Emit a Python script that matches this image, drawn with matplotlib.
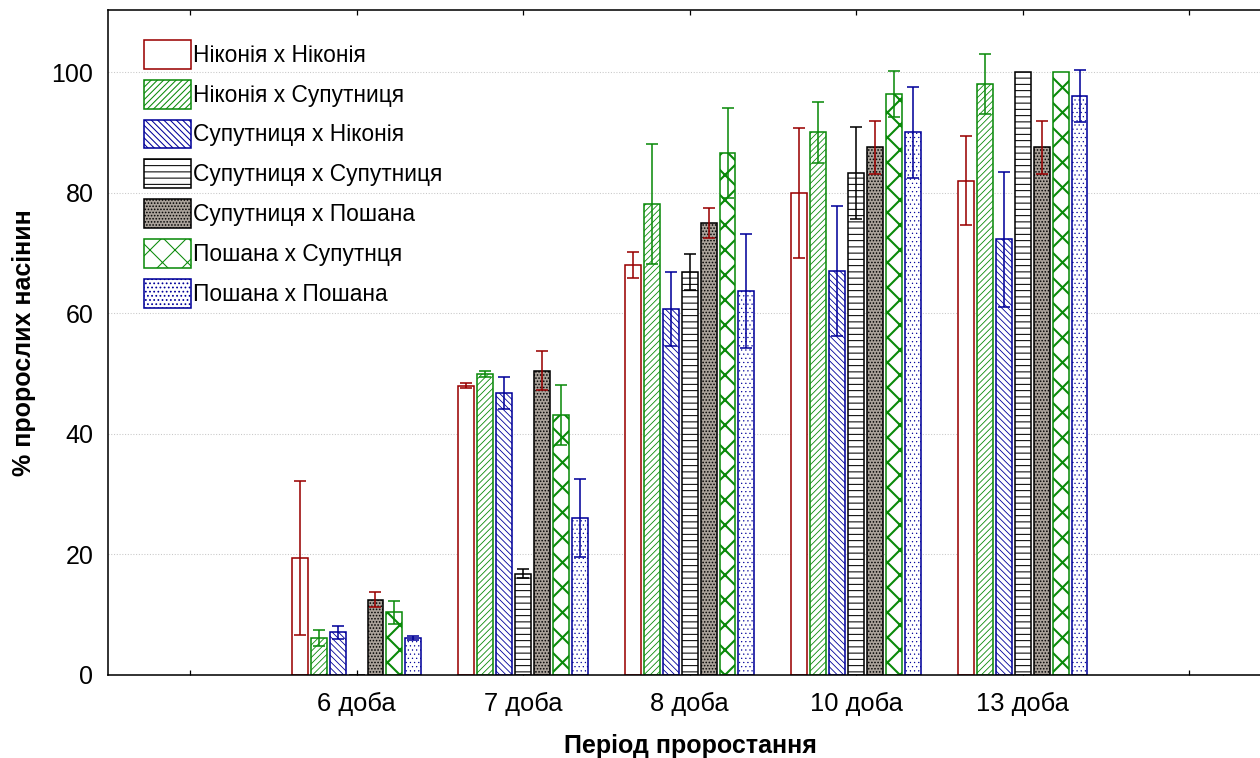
import numpy as np
import matplotlib
matplotlib.use("Agg")
import matplotlib.pyplot as plt

plt.rcParams['font.family'] = ['Liberation Sans', 'DejaVu Sans']
plt.rcParams['hatch.linewidth'] = 1.0

# періоди проростання
groups = ['6 доба', '7 доба', '8 доба', '10 доба', '13 доба']

names = ['Ніконія х Ніконія', 'Ніконія х Супутниця', 'Супутниця х Ніконія',
         'Супутниця х Супутниця', 'Супутниця х Пошана', 'Пошана х Супутнця',
         'Пошана х Пошана']

nik_nik = [19.4, 48.0, 68.0, 80.0, 82.0]
nik_sup = [6.1, 50.0, 78.1, 90.0, 98.0]
sup_nik = [7.1, 46.8, 60.7, 67.0, 72.3]
sup_sup = [0.0, 16.8, 66.8, 83.3, 100.0]
sup_posh = [12.5, 50.5, 75.0, 87.5, 87.5]
posh_sup = [10.4, 43.1, 86.6, 96.3, 100.0]
posh_posh = [6.1, 26.0, 63.7, 90.0, 96.0]

nik_nik_err = [12.8, 0.4, 2.1, 10.8, 7.4]
nik_sup_err = [1.3, 0.5, 10.0, 5.0, 5.0]
sup_nik_err = [1.1, 2.7, 6.2, 10.8, 11.2]
sup_sup_err = [np.nan, 0.7, 3.0, 7.6, np.nan]
sup_posh_err = [1.25, 3.3, 2.5, 4.4, 4.4]
posh_sup_err = [1.9, 5.0, 7.4, 3.8, np.nan]
posh_posh_err = [0.3, 6.5, 9.4, 7.5, 4.3]

values = [nik_nik, nik_sup, sup_nik, sup_sup, sup_posh, posh_sup, posh_posh]
errors = [nik_nik_err, nik_sup_err, sup_nik_err, sup_sup_err, sup_posh_err,
          posh_sup_err, posh_posh_err]

red = '#990000'
green = '#0a8a0a'
blue = '#000099'
styles = [
    dict(fc='white', ec=red, hatch=None, err=red, hlw=1.0),
    dict(fc='white', ec=green, hatch='////', err=green, hlw=0.8),
    dict(fc='white', ec=blue, hatch='\\\\\\\\', err=blue, hlw=0.8),
    dict(fc='white', ec='black', hatch='--', err='black', hlw=1.0),
    dict(fc='#aaa29a', ec='black', hatch='....', err=red, hlw=1.0),
    dict(fc='white', ec=green, hatch='x', err=green, hlw=2.0),
    dict(fc='white', ec=blue, hatch='...', err=blue, hlw=0.5),
]

dpi = 75
fig = plt.figure(figsize=(1260 / dpi, 758 / dpi), dpi=dpi)
ax = fig.add_axes([108 / 1260, 1 - 675 / 758, 1 - 108 / 1260, 665 / 758])

x = np.arange(1, len(groups) + 1)
step = 0.114
width = 0.096
for i in range(len(values)):
    st = styles[i]
    pos = x + (i - 3) * step
    bars = ax.bar(pos, values[i], width, facecolor=st['fc'], edgecolor=st['ec'],
                  hatch=st['hatch'], linewidth=1.5, label=names[i], zorder=2)
    for p in bars:
        if hasattr(p, 'set_hatch_linewidth'):
            p.set_hatch_linewidth(st['hlw'])
    err = np.array(errors[i])
    ok = np.isfinite(err)
    ax.errorbar(pos[ok], np.array(values[i])[ok], yerr=err[ok], fmt='none',
                ecolor=st['err'], elinewidth=1.5, capsize=5.8, capthick=1.5,
                zorder=3)

ax.set_xlim(-0.4925, 6.426)
ax.set_ylim(0, 110.3)
ax.set_xticks(range(0, 7))
ax.set_xticklabels([''] + groups + [''])
ax.set_yticks([0, 20, 40, 60, 80, 100])
ax.tick_params(axis='x', direction='in', top=True, length=5, width=1.2,
               labelsize=24.5, pad=16)
ax.tick_params(axis='y', direction='in', length=0, labelsize=24, pad=14)
ax.yaxis.grid(True, color='#c8c8c8', linestyle=':', linewidth=1.0, zorder=0)
ax.set_axisbelow(True)

for s in ['left', 'top', 'bottom']:
    ax.spines[s].set_linewidth(1.5)
ax.spines['right'].set_visible(False)

ax.set_xlabel('Період проростання', fontsize=24, fontweight='bold')
ax.xaxis.set_label_coords((690 - 108) / 1152, (675 - 734) / 665)
ax.set_ylabel('% пророслих насінин', fontsize=24, fontweight='bold')
ax.yaxis.set_label_coords((36 - 108) / 1152, 0.5)

leg = ax.legend(loc='upper left',
                bbox_to_anchor=((144 - 108) / 1152, (675 - 40) / 665),
                frameon=False, fontsize=21.8, handlelength=2.07,
                handleheight=1.58, handletextpad=0.08, labelspacing=0.48,
                borderpad=0, borderaxespad=0)

fig.savefig('out.png', dpi=dpi)
